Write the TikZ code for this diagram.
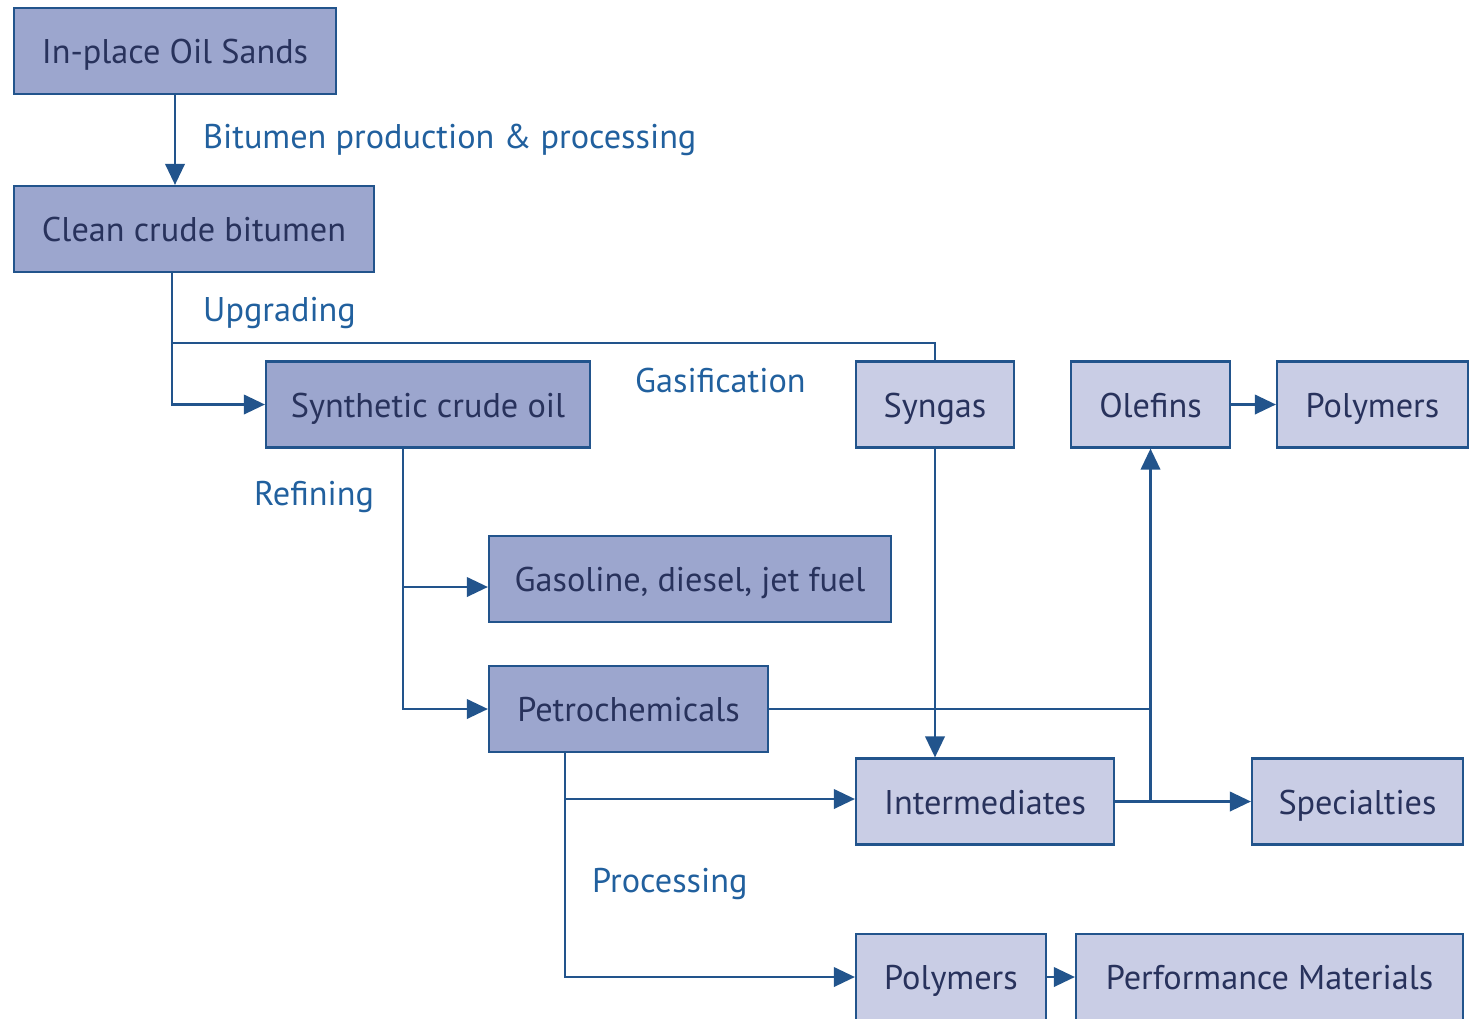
\documentclass[tikz,border=0pt]{standalone}
\usepackage{fontspec}
\setmainfont{PT Sans}
\usepackage{tikz}
\usetikzlibrary{arrows.meta}
\definecolor{boxdark}{RGB}{156,166,206}
\definecolor{boxlight}{RGB}{201,205,229}
\definecolor{edgeblue}{RGB}{34,84,140}
\definecolor{txtnavy}{RGB}{40,50,92}
\definecolor{lblblue}{RGB}{33,96,158}
\tikzset{
  stage/.style={rectangle, draw=edgeblue, line width=1.2pt, text=txtnavy,
    minimum height=86*0.02cm, inner sep=0pt, text height=18pt, text depth=3.5pt,
    font=\fontsize{19.5}{23}\selectfont},
  early/.style={stage, fill=boxdark},
  late/.style={stage, fill=boxlight},
  line/.style={draw=edgeblue, line width=1.6pt},
  flow/.style={line, -{Triangle[length=12pt, width=11pt]}},
  step label/.style={anchor=west, text=lblblue, font=\fontsize{19.5}{23}\selectfont}
}
\begin{document}
\begin{tikzpicture}[x=0.02cm, y=-0.02cm]
\useasboundingbox (0,0) rectangle (1470,1018);
% Boxes
\node[early, minimum width=322*0.02cm] (sands) at (175,51) {In-place Oil Sands};
\node[early, minimum width=360*0.02cm] (bitumen) at (194,229) {Clean crude bitumen};
\node[early, minimum width=324*0.02cm] (synoil) at (428,404.5) {Synthetic crude oil};
\node[late, minimum width=158*0.02cm] (syngas) at (935,404.5) {Syngas};
\node[late, minimum width=159*0.02cm] (olefins) at (1150.5,404.5) {Olefins};
\node[late, minimum width=191*0.02cm] (polyA) at (1372.5,404.5) {Polymers};
\node[early, minimum width=402*0.02cm] (fuels) at (690,579) {Gasoline, diesel, jet fuel};
\node[early, minimum width=279*0.02cm] (petro) at (628.5,709) {Petrochemicals};
\node[late, minimum width=258*0.02cm] (inter) at (985,801.5) {Intermediates};
\node[late, minimum width=211*0.02cm] (spec) at (1357.5,801.5) {Specialties};
\node[late, minimum width=190*0.02cm] (polyB) at (951,977) {Polymers};
\node[late, minimum width=387*0.02cm] (perf) at (1269.5,977) {Performance Materials};
% Junctions
\coordinate (upg) at (172,343);
\coordinate (refine) at (403,587);
\coordinate (proc) at (565,799);
% Process labels
\node[step label] (lbitumen) at (197,140) {Bitumen production \& processing};
\node[step label] (lupg) at (197,313) {Upgrading};
\node[step label] (lgas) at (629,381) {Gasification};
\node[step label] (lref) at (248,497) {Refining};
\node[step label] (lproc) at (586,884) {Processing};
% Connectors
\draw[flow] (sands) -- (sands |- bitumen.north);
\draw[flow] (bitumen.south -| upg) |- (synoil.west);
\draw[line] (upg) -| (syngas.north);
\draw[flow] (synoil.south -| refine) |- (petro.west);
\draw[flow] (refine) -- (refine -| fuels.west);
\draw[flow] (syngas.south) -- (syngas.south |- inter.north);
\draw[line] (petro.east) -- (petro.east -| olefins.south);
\draw[flow] (inter.east -| olefins.south) -- (olefins.south);
\draw[flow] (inter.east) -- (spec.west);
\draw[flow] (olefins.east) -- (polyA.west);
\draw[flow] (petro.south -| proc) |- (polyB.west);
\draw[flow] (proc) -- (proc -| inter.west);
\draw[flow] (polyB.east) -- (perf.west);
\end{tikzpicture}
\end{document}
